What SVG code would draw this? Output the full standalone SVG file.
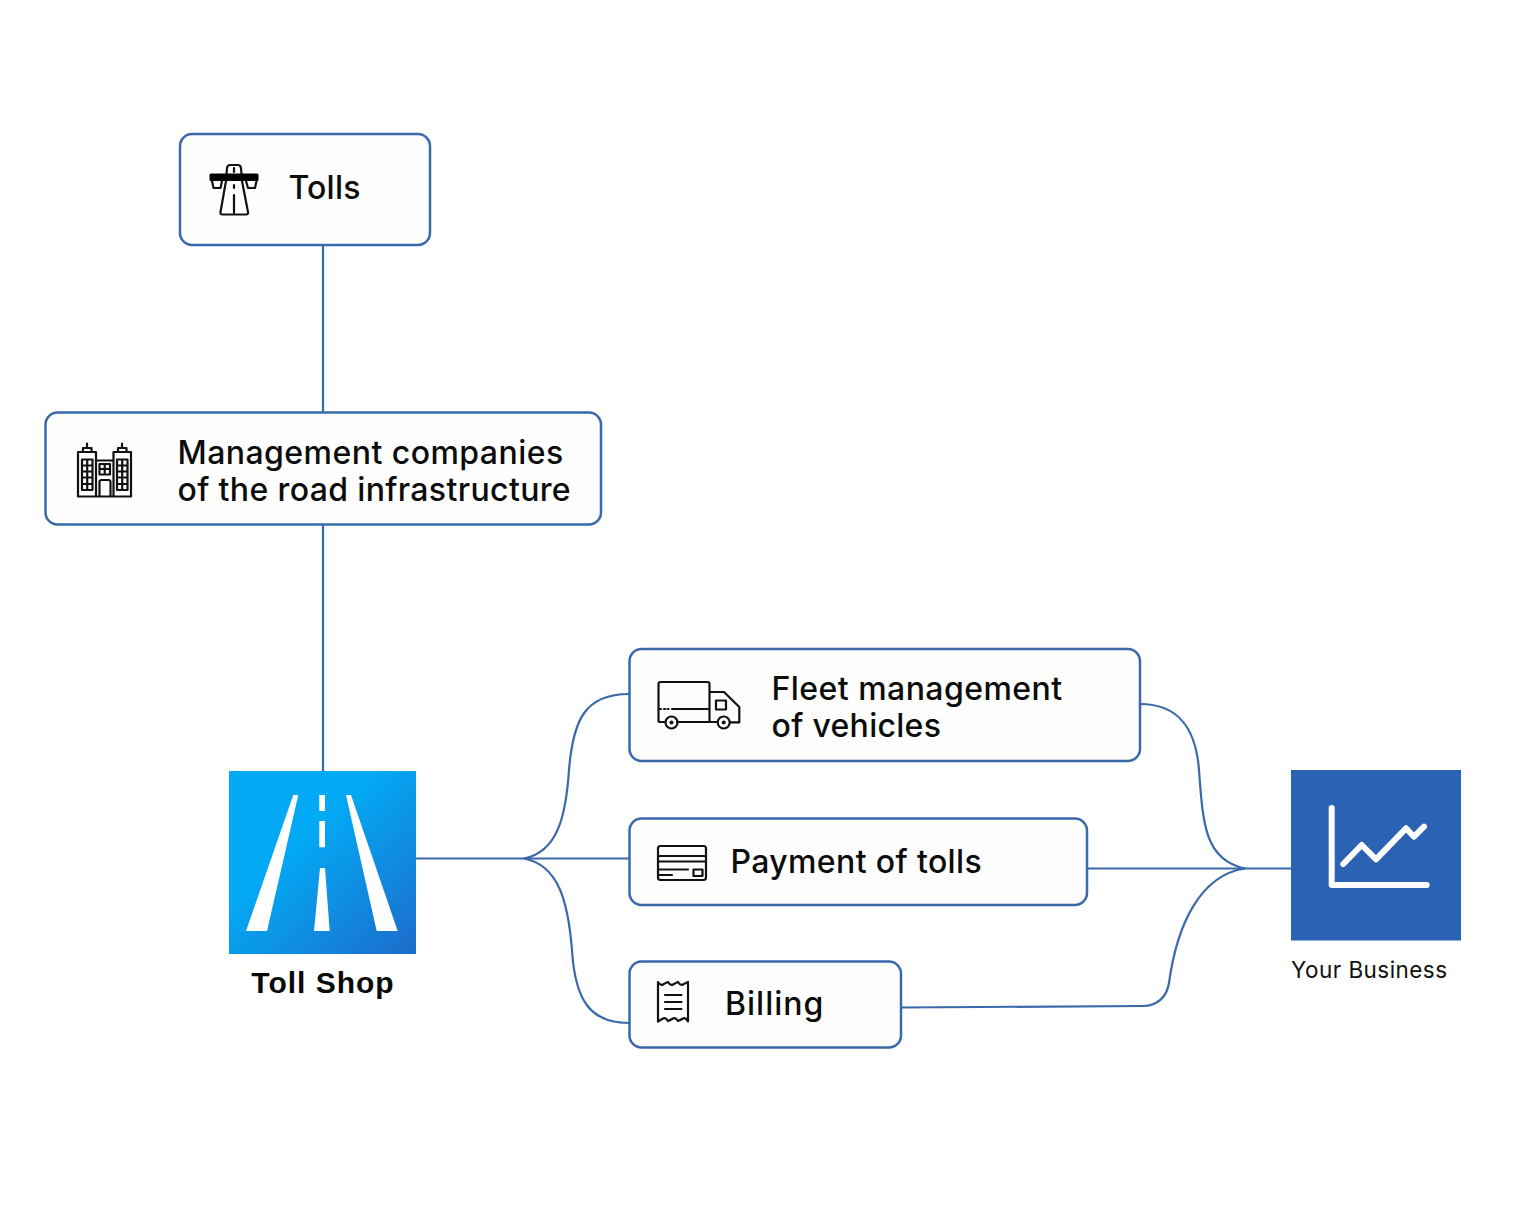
<svg xmlns="http://www.w3.org/2000/svg" width="1536" height="1229" viewBox="0 0 1536 1229">
<style>
.box{fill:#fefefe;stroke:#3a69aa;stroke-width:2.5}
.con{fill:none;stroke:#3a69aa;stroke-width:2.200}
.lbl{font-family:"Inter","Noto Sans",sans-serif;font-size:32px;font-weight:500;fill:#0c0c0c}
.ic{fill:none;stroke:#111;stroke-width:2.200;stroke-linejoin:round;stroke-linecap:round}
.w{fill:#fff}
</style>
<defs>
<linearGradient id="tg" x1="0.25" y1="0.2" x2="1" y2="1"><stop offset="0.2" stop-color="#03a9f4"/><stop offset="1" stop-color="#1d6ccb"/></linearGradient>
</defs>
<rect width="1536" height="1229" fill="#fff"/>
<g id="connectors">
<path class="con" d="M323 245V412M323 524V771"/>
<path class="con" d="M416 858.500H629"/>
<path class="con" d="M524 858.500C558 852 566 815 569 770C573 720 585 694 629 694"/>
<path class="con" d="M524 858.500C558 865 568 900 572 950C575 1000 590 1023 629 1023"/>
<path class="con" d="M1087 868.500H1291"/>
<path class="con" d="M1140 704C1180 704 1196 730 1199 770C1203 825 1205 860 1245 868.500"/>
<path class="con" d="M901 1007.500L1143 1006C1158 1006 1167 996 1169 983C1177 925 1200 875 1245 868.500"/>
</g>
<g id="tolls">
<rect class="box" x="180" y="134" width="250" height="111" rx="12"/>
<path class="ic" d="M226.500 174L227 168Q227.500 165 230 165H238Q240.500 165 241 168L241.500 174M226 181L220.500 212Q220 214.500 222.500 214.500H246Q248.500 214.500 248 212L242 181M212 181L213.500 188H220.500L222 181M246 181L248 188H255L256.500 181"/>
<rect x="209.500" y="173.500" width="49" height="7.500" rx="1.500" fill="#000"/>
<path class="ic" d="M234 168V172M234 185V188M234 195V213"/>
<text class="lbl" x="288.500" y="199" letter-spacing="0.200">Tolls</text>
</g>
<g id="management">
<rect class="box" x="45.500" y="412.500" width="555.500" height="112" rx="12"/>
<path class="ic" d="M78 496.500V452H96V496.500ZM113.500 496.500V452H131V496.500ZM78 496.500H131M96 460.500H113.500M99.500 496.500V482Q99.500 480 101.500 480H108.500Q110.500 480 110.500 482V496.500M83 452V448H91.500V452M87 448V443.500M118 452V448H126.500V452M122 448V443.500"/>
<path class="ic" stroke-width="1.500" d="M82 459.500H92.500V490H82ZM87.200 459.500V490M82 465.500H92.500M82 471.500H92.500M82 477.500H92.500M82 484H92.500M117 459.500H127.500V490H117ZM122.200 459.500V490M117 465.500H127.500M117 471.500H127.500M117 477.500H127.500M117 484H127.500M99.500 464H110V474.500H99.500ZM104.700 464V474.500M99.500 469H110"/>
<text class="lbl"><tspan x="177.500" y="464" letter-spacing="0.450">Management companies</tspan><tspan x="177.500" y="501" letter-spacing="0.360">of the road infrastructure</tspan></text>
</g>
<g id="toll-shop">
<rect x="229" y="771" width="187" height="183" fill="url(#tg)"/>
<path class="w" d="M293.300 795H298.300L267 931H246ZM346 795H351L397.700 931H376.700ZM319.300 795H325V811H319.300ZM319.300 821H325V847.300H319.300ZM320 868H325L329.700 931H314Z"/>
<text x="323" y="993" text-anchor="middle" font-family="Liberation Sans, Arial, sans-serif" font-size="30" font-weight="700" letter-spacing="1" fill="#0a0a0a">Toll Shop</text>
</g>
<g id="fleet">
<rect class="box" x="629.500" y="649" width="510.500" height="112" rx="12" style="fill:#fdfefc"/>
<path class="ic" d="M665 722H660Q658.500 722 658.500 720.500V684Q658.500 682 660.500 682H707.500Q709.500 682 709.500 684V722H677M709.500 692H724L739.300 707V722.300H730M717 722H709.500M672 709H709.500M660 709H661M664 709H665M667.500 709H668.500M716 700.500H726V709.500H716Z"/>
<circle class="ic" cx="671.500" cy="722.500" r="6"/><circle cx="671.500" cy="722.500" r="2" fill="#111"/>
<circle class="ic" cx="723.700" cy="722.500" r="6"/><circle cx="723.700" cy="722.500" r="2" fill="#111"/>
<text class="lbl"><tspan x="771.500" y="699.500" letter-spacing="0.450">Fleet management</tspan><tspan x="771.500" y="736.500" letter-spacing="0.300">of vehicles</tspan></text>
</g>
<g id="payment">
<rect class="box" x="629.500" y="818.500" width="457.500" height="86.500" rx="12"/>
<rect class="ic" x="658" y="846" width="48" height="34" rx="2.500"/>
<path class="ic" d="M658 856H706M658 861.500H706M659 869.500H688M659 875H672M693.500 869.500H702.500V876H693.500Z"/>
<text class="lbl" x="730.500" y="873" letter-spacing="0.370">Payment of tolls</text>
</g>
<g id="billing">
<rect class="box" x="629.500" y="961.500" width="271.500" height="86" rx="12"/>
<path class="ic" d="M658 982Q660.500 986 663 984.500T668 982Q670.500 986 673 984.500T678 982Q680.500 986 683 984.500T688 982V1021.500Q685.500 1017 683 1018.500T678 1021Q675.500 1017 673 1018.500T668 1021Q665.500 1017 663 1018.500T658 1021.500ZM665 995H681.500M665 1002H681.500M665 1009H681.500"/>
<text class="lbl" x="725" y="1015" letter-spacing="1">Billing</text>
</g>
<g id="your-business">
<rect x="1291" y="770" width="170" height="170.500" fill="#2a63b4"/>
<path fill="none" stroke="#fff" stroke-width="6" stroke-linecap="round" stroke-linejoin="round" d="M1331.700 808V885H1426.700M1343.300 864L1361.700 845L1376 859.300L1406 828.300L1414 836.700L1424 826.700"/>
<text x="1291" y="978" font-family="Inter, Noto Sans, sans-serif" font-size="22.500" letter-spacing="0.450" fill="#111">Your Business</text>
</g>
</svg>
